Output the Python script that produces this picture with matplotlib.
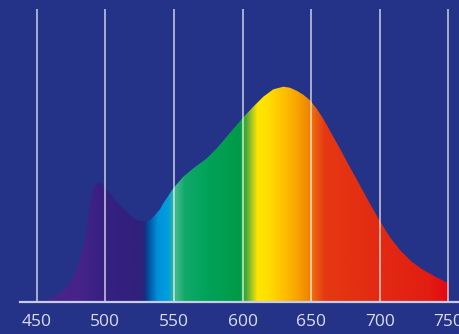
import numpy as np
import matplotlib
matplotlib.use('Agg')
import matplotlib.pyplot as plt
from matplotlib.colors import LinearSegmentedColormap
from matplotlib.patches import Polygon

# Spectrum (wavelength in nm, relative intensity)
wavelength = [452, 462.1, 469.4, 474.3, 477.9, 481.5, 484.0, 485.9, 487.6, 488.8,
              490.0, 491.7, 493.7, 495.6, 497.4, 499.8, 503.4, 508.3, 513.1, 518.0,
              522.9, 527.7, 532.6, 536.2, 539.8, 542.2, 549.5, 556.8, 564.1, 573.9,
              581.2, 588.4, 595.7, 600.5, 607.8, 615.1, 622.4, 629.7, 634.5, 639.4,
              644.2, 649.1, 654.0, 658.8, 664.9, 671.0, 677.0, 683.1, 691.6, 700.1,
              707.4, 714.7, 723.2, 731.7, 741.4, 749.9]
intensity = [0, 4.0, 11.7, 18.4, 28.4, 41.7, 55, 68.4, 85, 98.4,
             108.4, 115, 118.4, 119.4, 117.7, 113.4, 108.4, 100, 93.4, 86.7,
             81.7, 80, 81.7, 86.7, 92.4, 98.4, 113.4, 125, 133.4, 143.4,
             153.4, 165, 176.7, 184.4, 195, 205, 212.4, 215, 214, 211,
             207, 201.5, 193, 183, 168, 153, 137.5, 122.5, 101, 80.5,
             64.5, 51.7, 40, 31.7, 24.4, 18.4]

tick_values = [450, 500, 550, 600, 650, 700, 750]
tick_labels = ['450', '500', '550', '600', '650', '700', '750']

# Colour stops of the rainbow fill
stop_nm = [437, 450, 480, 500, 526, 529, 533, 538, 546, 549, 552, 558, 575, 598,
           603, 607, 611, 618, 628, 640, 648, 653, 660, 700, 735, 752, 758]
stop_colors = ['#4b2387', '#4b2387', '#47238a', '#352080', '#30207c', '#15307f',
               '#0060b0', '#0090d8', '#00a0e0', '#30b0a0', '#40b888', '#10a86a',
               '#00a258', '#009a48', '#50ad35', '#b0c820', '#ffe600', '#ffe000',
               '#ffc400', '#f8a400', '#f08600', '#ea6010', '#e63812', '#e22a12',
               '#e21e12', '#e30613', '#e30613']

BG = '#243387'
XMIN, XMAX = 437.8, 757.7
YMAX = 292.7

fig = plt.figure(figsize=(4.59, 3.34), dpi=100, facecolor=BG)
ax = fig.add_axes([20 / 459, 0.0967, 439 / 459, 0.8763])
ax.set_facecolor(BG)
ax.set_xlim(XMIN, XMAX)
ax.set_ylim(0, YMAX)

# gradient image clipped to area under the curve
pos = [(s - XMIN) / (XMAX - XMIN) for s in stop_nm]
pos[0], pos[-1] = 0.0, 1.0
cmap = LinearSegmentedColormap.from_list('spec', list(zip(pos, stop_colors)), N=1024)
grad = np.linspace(0, 1, 1024).reshape(1, -1)
img = ax.imshow(grad, cmap=cmap, extent=[XMIN, XMAX, 0, YMAX], aspect='auto',
                interpolation='bilinear', zorder=1)
verts = list(zip(wavelength, intensity)) + [(wavelength[-1], 0), (wavelength[0], 0)]
poly = Polygon(verts, closed=True, facecolor='none', edgecolor='none')
ax.add_patch(poly)
img.set_clip_path(poly)

# grid lines and base line
ax.vlines(tick_values, 0, YMAX, colors='white', alpha=0.65, linewidth=1.3, zorder=2)
ax.axhline(0, color='#c8cce8', linewidth=1.6, zorder=3, clip_on=False)

for s in ax.spines.values():
    s.set_visible(False)
ax.set_yticks([])
ax.set_xticks(tick_values)
ax.set_xticklabels(tick_labels, fontfamily='Open Sans', fontsize=12.5, color='#dcdcf0')
ax.tick_params(axis='x', length=0, pad=9)

fig.savefig('out.png', dpi=100, facecolor=BG)
